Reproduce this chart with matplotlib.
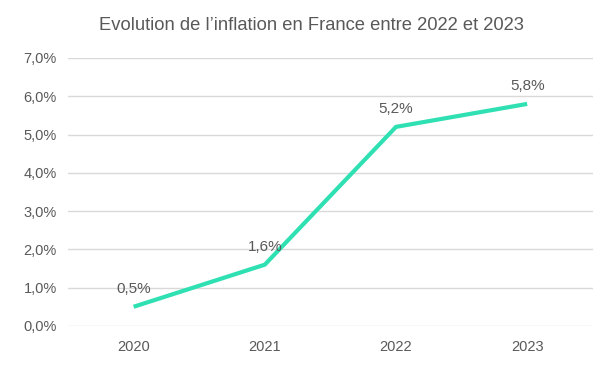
import numpy as np
import matplotlib.pyplot as plt

years = ['2020', '2021', '2022', '2023']
inflation = [0.5, 1.6, 5.2, 5.8]
yticks = [0, 1, 2, 3, 4, 5, 6, 7]

plt.rcParams['font.family'] = ['Liberation Sans', 'DejaVu Sans']
grey = '#595959'

fig = plt.figure(figsize=(6.13, 3.67), dpi=100)
ax = fig.add_axes([0.111, 0.112, 0.856, 0.730])

x = np.arange(len(years))
ax.plot(x, inflation, color='#2FE0B2', linewidth=3.0, solid_capstyle='butt',
        solid_joinstyle='miter', zorder=3)
for xi, v in zip(x, inflation):
    ax.annotate(('%.1f%%' % v).replace('.', ','), (xi, v), xytext=(0, 8),
                textcoords='offset points', ha='center', va='bottom',
                fontsize=11, color=grey)

ax.set_xlim(-0.5, len(years) - 0.5)
ax.set_ylim(0, 7)
ax.set_yticks(yticks)
ax.set_yticklabels([('%.1f%%' % t).replace('.', ',') for t in yticks])
ax.set_xticks(x)
ax.set_xticklabels(years)
ax.yaxis.grid(True, color='#D9D9D9', linewidth=1)
ax.set_axisbelow(True)
for s in ax.spines.values():
    s.set_visible(False)
ax.tick_params(length=0, labelsize=10.5, colors=grey, pad=8)
ax.tick_params(axis='x', pad=10)

fig.suptitle('Evolution de l\u2019inflation en France entre 2022 et 2023',
             x=0.508, y=0.955, fontsize=13.2, color=grey, va='top')

fig.savefig('out.png', dpi=100)
